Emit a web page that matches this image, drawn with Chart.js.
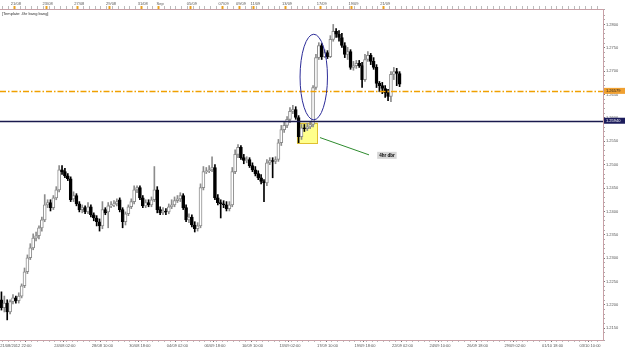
<!DOCTYPE html>
<html>
<head>
<meta charset="utf-8">
<script src="https://cdn.jsdelivr.net/npm/chart.js@4.4.0/dist/chart.umd.min.js"></script>
<style>
  html, body { margin: 0; padding: 0; background: #fff; }
</style>
</head>
<body>
<canvas id="priceChart" width="625" height="350"></canvas>
<script>
// === 4H CANDLES ===
const open = [
  1.2211,1.2194,1.2204,1.2185,1.2207,1.2215,1.2209,1.2219,1.2241,1.2271,
  1.2301,1.2322,1.2343,1.2348,1.2365,1.2382,1.2414,1.2419,1.2408,1.2429,
  1.2446,1.2489,1.2485,1.2476,1.2470,1.2427,1.2434,1.2416,1.2404,1.2408,
  1.2399,1.2410,1.2393,1.2386,1.2378,1.2369,1.2404,1.2399,1.2412,1.2414,
  1.2416,1.2425,1.2404,1.2378,1.2395,1.2410,1.2421,1.2446,1.2451,1.2429,
  1.2412,1.2419,1.2414,1.2425,1.2446,1.2404,1.2397,1.2401,1.2399,1.2410,
  1.2414,1.2423,1.2427,1.2434,1.2408,1.2382,1.2388,1.2371,1.2363,1.2369,
  1.2451,1.2485,1.2487,1.2489,1.2494,1.2429,1.2419,1.2416,1.2414,1.2406,
  1.2414,1.2485,1.2522,1.2537,1.2515,1.2509,1.2511,1.2498,1.2489,1.2481,
  1.2472,1.2464,1.2461,1.2504,1.2509,1.2507,1.2511,1.2547,1.2575,1.2584,
  1.2597,1.2614,1.2618,1.2601,1.2560,1.2579,1.2577,1.2581,1.2586,1.2665,
  1.2729,1.2755,1.2731,1.2740,1.2731,1.2768,1.2785,1.2779,1.2772,1.2755,
  1.2736,1.2742,1.2708,1.2712,1.2717,1.2712,1.2682,1.2725,1.2734,1.2721,
  1.2708,1.2674,1.2669,1.2663,1.2654,1.2646,1.2693,1.2699,1.2695
];
const high = [
  1.2228,1.2219,1.2211,1.2211,1.2222,1.2219,1.2226,1.2245,1.2279,1.2307,
  1.2331,1.2352,1.2356,1.2369,1.2388,1.2436,1.2425,1.2425,1.2434,1.2453,
  1.2498,1.2498,1.2492,1.2481,1.2474,1.2442,1.2438,1.2421,1.2414,1.2412,
  1.2419,1.2414,1.2397,1.2391,1.2384,1.2421,1.2408,1.2419,1.2421,1.2423,
  1.2427,1.2429,1.2408,1.2399,1.2414,1.2427,1.2455,1.2455,1.2455,1.2434,
  1.2425,1.2425,1.2431,1.2496,1.2453,1.2410,1.2408,1.2406,1.2416,1.2425,
  1.2431,1.2434,1.2440,1.2438,1.2414,1.2395,1.2393,1.2378,1.2376,1.2459,
  1.2496,1.2494,1.2498,1.2517,1.2500,1.2436,1.2425,1.2423,1.2421,1.2421,
  1.2494,1.2532,1.2543,1.2541,1.2522,1.2517,1.2515,1.2504,1.2496,1.2487,
  1.2479,1.2468,1.2511,1.2515,1.2515,1.2517,1.2554,1.2584,1.2592,1.2603,
  1.2622,1.2627,1.2624,1.2605,1.2586,1.2586,1.2588,1.2592,1.2669,1.2736,
  1.2761,1.2759,1.2746,1.2744,1.2776,1.2800,1.2791,1.2787,1.2781,1.2761,
  1.2751,1.2746,1.2721,1.2723,1.2723,1.2719,1.2736,1.2742,1.2738,1.2729,
  1.2714,1.2678,1.2676,1.2669,1.2661,1.2699,1.2708,1.2706,1.2699
];
const low = [
  1.2189,1.2185,1.2168,1.2181,1.2202,1.2204,1.2204,1.2215,1.2237,1.2267,
  1.2297,1.2318,1.2337,1.2341,1.2358,1.2378,1.2408,1.2401,1.2404,1.2425,
  1.2442,1.2479,1.2472,1.2466,1.2421,1.2421,1.2412,1.2399,1.2397,1.2395,
  1.2395,1.2388,1.2380,1.2369,1.2358,1.2363,1.2393,1.2365,1.2408,1.2410,
  1.2412,1.2399,1.2365,1.2371,1.2391,1.2406,1.2416,1.2440,1.2425,1.2408,
  1.2408,1.2410,1.2410,1.2421,1.2397,1.2393,1.2393,1.2393,1.2395,1.2406,
  1.2410,1.2419,1.2421,1.2404,1.2378,1.2376,1.2367,1.2356,1.2358,1.2365,
  1.2446,1.2481,1.2483,1.2485,1.2425,1.2414,1.2386,1.2408,1.2401,1.2401,
  1.2410,1.2481,1.2515,1.2511,1.2502,1.2504,1.2494,1.2485,1.2476,1.2468,
  1.2459,1.2421,1.2455,1.2500,1.2472,1.2502,1.2507,1.2541,1.2569,1.2579,
  1.2590,1.2609,1.2597,1.2547,1.2554,1.2571,1.2573,1.2577,1.2581,1.2661,
  1.2725,1.2725,1.2729,1.2727,1.2729,1.2764,1.2772,1.2764,1.2751,1.2729,
  1.2725,1.2704,1.2702,1.2706,1.2708,1.2665,1.2678,1.2721,1.2714,1.2704,
  1.2665,1.2656,1.2652,1.2644,1.2637,1.2635,1.2682,1.2669,1.2667
];
const close = [
  1.2194,1.2204,1.2185,1.2207,1.2215,1.2209,1.2219,1.2241,1.2271,1.2301,
  1.2322,1.2343,1.2348,1.2365,1.2382,1.2414,1.2419,1.2408,1.2429,1.2446,
  1.2489,1.2485,1.2476,1.2470,1.2425,1.2434,1.2416,1.2404,1.2408,1.2399,
  1.2410,1.2393,1.2386,1.2378,1.2369,1.2404,1.2397,1.2412,1.2414,1.2416,
  1.2421,1.2404,1.2378,1.2395,1.2410,1.2421,1.2446,1.2451,1.2429,1.2412,
  1.2419,1.2414,1.2425,1.2446,1.2404,1.2397,1.2401,1.2399,1.2410,1.2414,
  1.2423,1.2427,1.2434,1.2408,1.2382,1.2388,1.2371,1.2363,1.2369,1.2451,
  1.2485,1.2487,1.2489,1.2494,1.2429,1.2419,1.2416,1.2414,1.2406,1.2414,
  1.2485,1.2522,1.2537,1.2515,1.2509,1.2511,1.2498,1.2489,1.2481,1.2472,
  1.2464,1.2461,1.2504,1.2509,1.2507,1.2511,1.2547,1.2575,1.2584,1.2597,
  1.2614,1.2618,1.2601,1.2560,1.2579,1.2577,1.2581,1.2586,1.2665,1.2729,
  1.2755,1.2731,1.2740,1.2731,1.2768,1.2785,1.2779,1.2772,1.2755,1.2736,
  1.2742,1.2708,1.2712,1.2717,1.2712,1.2682,1.2725,1.2734,1.2721,1.2708,
  1.2674,1.2669,1.2663,1.2654,1.2646,1.2693,1.2699,1.2695,1.2672
];

// bar slots on screen (candles + empty space on the right)
const slotCount = 209;

// bottom time axis
const bottomLabels = ["21/08/2012 22:00", "24/08 02:00", "28/08 10:00", "30/08 18:00",
  "04/09 02:00", "06/09 18:00", "10/09 10:00", "13/09 02:00", "17/09 10:00", "19/09 18:00",
  "22/09 02:00", "24/09 10:00", "26/09 18:00", "29/09 02:00", "01/10 18:00", "03/10 10:00"];
const bottomLabelBars = [5, 22, 35, 48, 61, 74, 87, 100, 113, 126, 139, 152, 165, 178, 191, 204];
const bottomMarkBars = [9, 22, 35, 48, 61, 74, 87, 100, 113, 126, 139, 152, 165, 178, 191, 204];

// top date strip
const topLabels = ["21/08", "23/08", "27/08", "29/08", "31/08", "Sep", "05/09",
  "07/09", "09/09", "11/09", "13/09", "17/09", "19/09", "21/09"];
const topLabelBars = [5, 16, 27, 38, 49, 55, 66, 77, 83, 88, 99, 111, 122, 133];

// price axis labels
const priceLabels = [1.2150, 1.2200, 1.2250, 1.2300, 1.2350, 1.2400, 1.2450,
  1.2500, 1.2550, 1.2600, 1.2650, 1.2700, 1.2750, 1.2800];

// horizontal levels
const orangeLevel = 1.26579;
const navyLevel = 1.25940;

// drawings on the chart (bar slot / price units)
const zone = { from: 102.4, to: 109.7, top: 1.2590, bottom: 1.2545 };
const circled = { from: 103.5, to: 113, top: 1.2779, bottom: 1.2596 };
const pointer = { x1: 110.4, y1: 1.2558, x2: 127.4, y2: 1.2521 };
const note = { at: 133.6, price: 1.2520, text: "4hr dbr" };

const FONT = '"Liberation Sans", Arial, sans-serif';
const AXIS = "#c8a0a6";
const BULL = "#8c8c8c";

const slots = Array.from({ length: slotCount }, (_, i) => i);
const isBull = i => close[i] >= open[i];

const overlays = {
  id: "overlays",
  beforeDatasetsDraw(chart) {
    const { ctx, scales: { x, y } } = chart;
    const l = x.getPixelForValue(zone.from), r = x.getPixelForValue(zone.to);
    const t = y.getPixelForValue(zone.top), b = y.getPixelForValue(zone.bottom);
    ctx.save();
    ctx.fillStyle = "#ffff8c";
    ctx.fillRect(l, t, r - l, b - t);
    ctx.strokeStyle = "#e0c030";
    ctx.lineWidth = 1;
    ctx.strokeRect(Math.round(l) + 0.5, Math.round(t) + 0.5, Math.round(r - l) - 1, Math.round(b - t) - 1);
    ctx.restore();
  },
  afterDatasetsDraw(chart) {
    const { ctx, chartArea: a, scales: { x, y } } = chart;
    ctx.save();
    // orange dash-dot level
    let py = Math.round(y.getPixelForValue(orangeLevel)) + 0.5;
    ctx.strokeStyle = "#f0a000";
    ctx.lineWidth = 1.4;
    ctx.setLineDash([6, 2, 1.5, 2]);
    ctx.beginPath(); ctx.moveTo(a.left, py); ctx.lineTo(a.right, py); ctx.stroke();
    ctx.setLineDash([]);
    // navy level
    py = Math.round(y.getPixelForValue(navyLevel)) + 0.5;
    ctx.strokeStyle = "#1a1a4e";
    ctx.lineWidth = 1.3;
    ctx.beginPath(); ctx.moveTo(a.left, py); ctx.lineTo(a.right, py); ctx.stroke();
    // ellipse
    const l = x.getPixelForValue(circled.from), r = x.getPixelForValue(circled.to);
    const t = y.getPixelForValue(circled.top), b = y.getPixelForValue(circled.bottom);
    ctx.strokeStyle = "#2b2b98";
    ctx.lineWidth = 1;
    ctx.beginPath();
    ctx.ellipse((l + r) / 2, (t + b) / 2, (r - l) / 2, (b - t) / 2, 0, 0, Math.PI * 2);
    ctx.stroke();
    // green pointer
    ctx.strokeStyle = "#2e8b2e";
    ctx.beginPath();
    ctx.moveTo(x.getPixelForValue(pointer.x1), y.getPixelForValue(pointer.y1));
    ctx.lineTo(x.getPixelForValue(pointer.x2), y.getPixelForValue(pointer.y2));
    ctx.stroke();
    // note label
    ctx.font = "bold 4.5px " + FONT;
    const w = ctx.measureText(note.text).width + 4;
    const nx = x.getPixelForValue(note.at), ny = y.getPixelForValue(note.price);
    ctx.fillStyle = "#d6d6d6";
    ctx.fillRect(nx - w / 2, ny - 3.5, w, 7);
    ctx.fillStyle = "#000";
    ctx.textAlign = "center";
    ctx.textBaseline = "middle";
    ctx.fillText(note.text, nx, ny + 0.3);
    ctx.restore();
  },
  afterDraw(chart) {
    const { ctx, chartArea: a, scales: { y } } = chart;
    ctx.save();
    ctx.font = "4px " + FONT;
    ctx.textBaseline = "middle";
    ctx.textAlign = "left";
    [[orangeLevel, "#f0a030", "#222"], [navyLevel, "#1c1c5c", "#fff"]].forEach(([v, bg, fg]) => {
      const py = y.getPixelForValue(v);
      ctx.fillStyle = bg;
      ctx.fillRect(a.right + 1, py - 3, 21, 6);
      ctx.fillStyle = fg;
      ctx.fillText(v.toFixed(5), a.right + 3, py + 0.3);
    });
    ctx.fillStyle = "#333";
    ctx.fillText("[Template: 4hr bang bang]", 2, 13.5);
    ctx.restore();
  }
};

new Chart(document.getElementById("priceChart"), {
  type: "bar",
  data: {
    labels: slots,
    datasets: [
      {
        label: "wick",
        data: low.map((l, i) => [l, high[i]]),
        barThickness: 1,
        grouped: false,
        order: 2,
        borderWidth: 0,
        backgroundColor: c => isBull(c.dataIndex) ? BULL : "#000"
      },
      {
        label: "body",
        data: open.map((o, i) => [o, close[i]]),
        barThickness: 3,
        grouped: false,
        order: 1,
        borderWidth: 1,
        borderSkipped: false,
        backgroundColor: c => isBull(c.dataIndex) ? "#fff" : "#000",
        borderColor: c => isBull(c.dataIndex) ? BULL : "#000"
      }
    ]
  },
  options: {
    responsive: false,
    animation: false,
    devicePixelRatio: 1,
    layout: { padding: 0 },
    plugins: { legend: { display: false }, tooltip: { enabled: false } },
    scales: {
      x: {
        type: "category",
        position: "bottom",
        offset: true,
        border: { color: AXIS },
        grid: {
          drawOnChartArea: false,
          tickLength: 2,
          tickColor: c => bottomMarkBars.includes(c.index) ? "#777" : (c.index % 2 ? "#bbb" : "transparent")
        },
        ticks: {
          autoSkip: false, maxRotation: 0, minRotation: 0, padding: 1,
          color: "#555", font: { size: 4, family: FONT },
          callback: (v, i) => {
            const k = bottomLabelBars.indexOf(i);
            return k >= 0 ? bottomLabels[k] : "";
          }
        },
        afterFit: s => { s.height = 10; }
      },
      x2: {
        type: "category",
        position: "top",
        offset: true,
        border: { color: AXIS },
        grid: {
          drawOnChartArea: false,
          tickLength: 3,
          tickWidth: c => topLabelBars.includes(c.index) ? 2 : 1,
          tickColor: c => topLabelBars.includes(c.index) ? "#e8a020" : (c.index % 2 ? "#bbb" : "transparent")
        },
        ticks: {
          autoSkip: false, maxRotation: 0, minRotation: 0, padding: 0,
          color: "#555", font: { size: 4, family: FONT },
          callback: (v, i) => {
            const k = topLabelBars.indexOf(i);
            return k >= 0 ? topLabels[k] : "";
          }
        },
        afterFit: s => { s.height = 9; }
      },
      y: {
        position: "right",
        min: 1.2125,
        max: 1.2833,
        border: { color: AXIS },
        grid: {
          drawOnChartArea: false,
          tickLength: 2,
          tickColor: c => priceLabels.some(p => Math.abs(p - c.tick.value) < 1e-7) ? "#777" : "#aaa"
        },
        ticks: {
          stepSize: 0.001, autoSkip: false, maxTicksLimit: 200, padding: 1,
          color: "#555", font: { size: 4, lineHeight: 1, family: FONT },
          callback: v => {
            const p = priceLabels.find(q => Math.abs(q - v) < 1e-7);
            return p === undefined ? "" : p.toFixed(4);
          }
        },
        afterFit: s => { s.width = 22; }
      }
    }
  },
  plugins: [overlays]
});
</script>
</body>
</html>
